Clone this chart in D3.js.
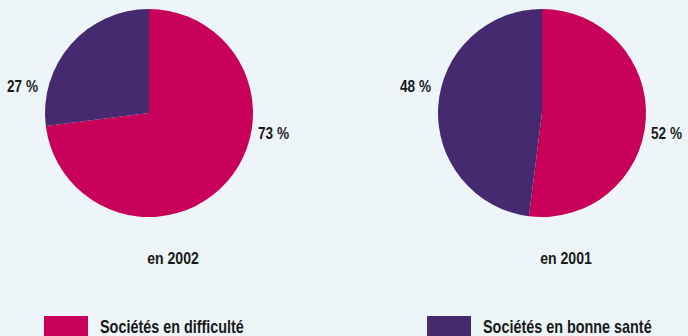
<!DOCTYPE html>
<html>
<head>
<meta charset="utf-8">
<script src="https://cdn.jsdelivr.net/npm/d3@7"></script>
<style>
  html, body { margin: 0; padding: 0; background: #eef5f8; }
  svg { display: block; }
  text { font-family: "Liberation Sans", Arial, sans-serif; font-weight: bold; fill: #1a1a1a; }
</style>
</head>
<body>
<svg id="chart" width="688" height="336"></svg>
<script>
// Share of companies by financial health, per year
const years = ["en 2002", "en 2001"];
const categories = ["Sociétés en difficulté", "Sociétés en bonne santé"];
const difficulte = [73, 52];
const bonneSante = [27, 48];

const W = 688, H = 336;
const svg = d3.select("#chart");
svg.append("rect").attr("width", W).attr("height", H).attr("fill", "#eef5f8");

const color = d3.scaleOrdinal().domain(categories).range(["#c8005a", "#452a6f"]);

// condensed-looking text: horizontally squeezed glyphs
function label(parent, x, y, anchor, size, squeeze, str) {
  parent.append("g")
    .attr("transform", `translate(${x},${y}) scale(${squeeze},1)`)
    .append("text")
    .attr("text-anchor", anchor)
    .style("font-size", size + "px")
    .text(str);
}

const r = 104;
const cx = d3.scalePoint().domain(years).range([149, 542]);
const cy = 113;

const pie = d3.pie().sort(null).value(d => d.value);
const arc = d3.arc().innerRadius(0).outerRadius(r);

years.forEach((year, i) => {
  const data = [
    { key: categories[0], value: difficulte[i] },
    { key: categories[1], value: bonneSante[i] }
  ];
  const g = svg.append("g").attr("transform", `translate(${cx(year)},${cy})`);
  g.selectAll("path").data(pie(data)).join("path")
    .attr("d", arc)
    .attr("fill", d => color(d.data.key));

  // value labels: troubled share on the right, healthy share on the left
  label(g, r + 5, 26, "start", 17, 0.8, `${difficulte[i]} %`);
  label(g, -r - 7, -21, "end", 17, 0.8, `${bonneSante[i]} %`);

  // year caption
  label(g, 24, 150.5, "middle", 16, 0.88, year);
});

// legend
const lx = d3.scaleOrdinal().domain(categories).range([44, 427]);
const legend = svg.selectAll("g.legend").data(categories).join("g")
  .attr("class", "legend")
  .attr("transform", d => `translate(${lx(d)},316)`);
legend.append("rect")
  .attr("width", 44).attr("height", 22)
  .attr("fill", d => color(d));
legend.each(function(d) {
  label(d3.select(this), 56, 17, "start", 18, 0.8, d);
});
</script>
</body>
</html>
